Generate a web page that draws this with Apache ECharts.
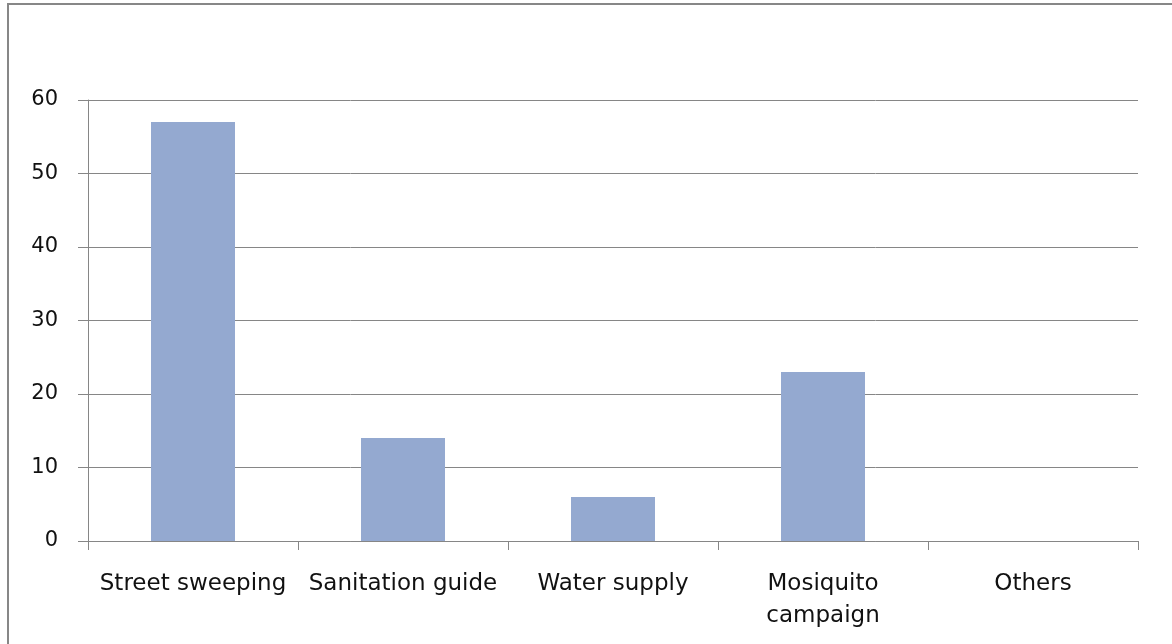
<!DOCTYPE html>
<html>
<head>
<meta charset="utf-8">
<style>
  html, body { margin: 0; padding: 0; background: #fff; }
  #chart { width: 1172px; height: 644px; }
</style>
<script src="https://cdn.jsdelivr.net/npm/echarts@6/dist/echarts.min.js"></script>
</head>
<body>
<div id="chart"></div>
<script>
// Activities and their counts
const categories = ['Street sweeping', 'Sanitation guide', 'Water supply', 'Mosiquito\ncampaign', 'Others'];
const counts = [57, 14, 6, 23, 0];
const yTicks = { min: 0, max: 60, interval: 10 };

const font = '"DejaVu Sans", "Open Sans", sans-serif';
const gray = '#868686';

const chart = echarts.init(document.getElementById('chart'), null, { renderer: 'canvas' });
chart.setOption({
  animation: false,
  backgroundColor: '#ffffff',
  graphic: [{
    type: 'rect',
    shape: { x: 8, y: 4, width: 1300, height: 800 },
    style: { fill: 'none', stroke: '#878787', lineWidth: 2 },
    silent: true
  }],
  grid: { left: 88, right: 34, top: 100, bottom: 103, containLabel: false },
  xAxis: {
    type: 'category',
    data: categories,
    axisLine: { lineStyle: { color: gray, width: 1 } },
    axisTick: { show: true, length: 9, alignWithLabel: false, lineStyle: { color: gray } },
    axisLabel: {
      interval: 0, margin: 27, color: '#111111',
      fontFamily: font, fontSize: 23, lineHeight: 32
    }
  },
  yAxis: {
    type: 'value',
    min: yTicks.min, max: yTicks.max, interval: yTicks.interval,
    axisLine: { show: true, lineStyle: { color: gray, width: 1 } },
    axisTick: { show: true, length: 10, lineStyle: { color: gray } },
    splitLine: { show: true, lineStyle: { color: gray, width: 1 } },
    axisLabel: { margin: 30, color: '#111111', fontFamily: font, fontSize: 21 }
  },
  series: [{
    type: 'bar',
    data: counts,
    barWidth: 84,
    itemStyle: { color: '#94a9d0' }
  }]
});
</script>
</body>
</html>
